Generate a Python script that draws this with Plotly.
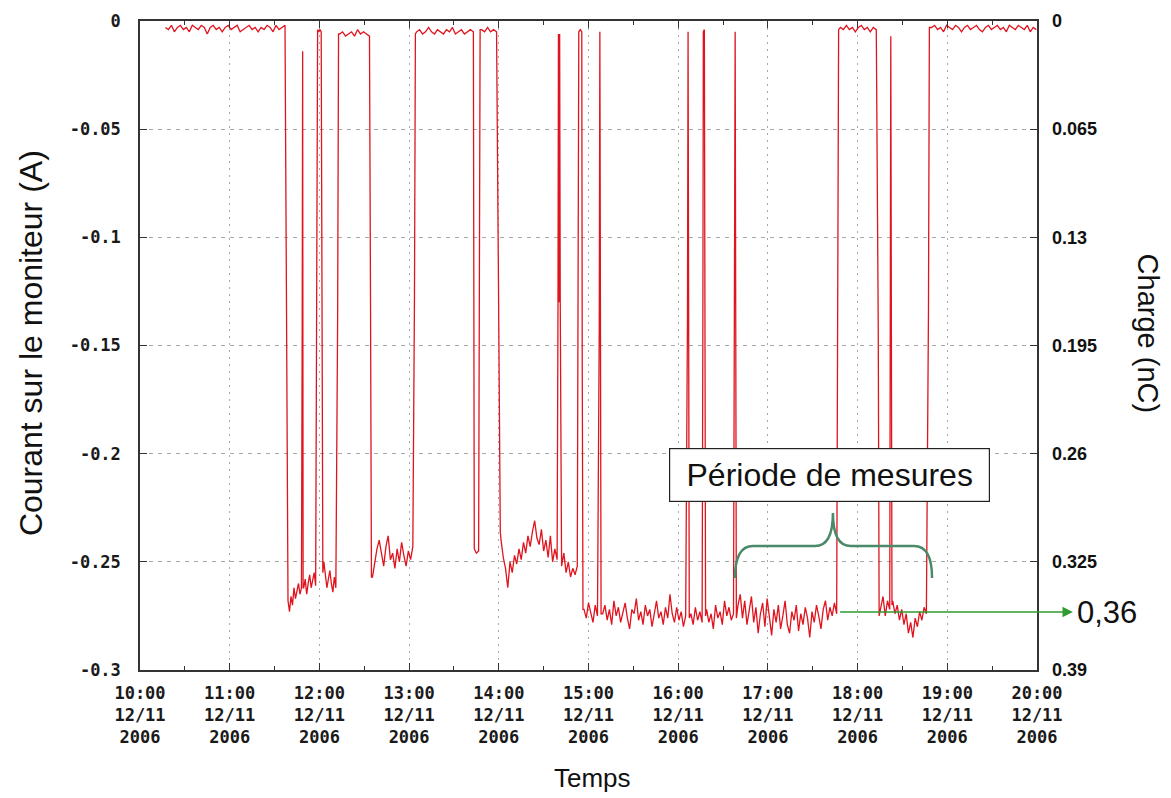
import pandas as pd
import plotly.graph_objects as go

START = pd.Timestamp("2006-11-12 10:00")

# ---------------- data (minutes after 10:00, current in A) ----------------
# plateaus sampled at a regular interval: (start minute, step in minutes, values)
BASE_1 = [-0.003, -0.004, -0.002, -0.005, -0.003, -0.002, -0.004, -0.003, -0.005, -0.002,
          -0.003, -0.004, -0.002, -0.003, -0.006, -0.003, -0.002, -0.004, -0.003, -0.005,
          -0.003, -0.002, -0.004, -0.003, -0.002, -0.005, -0.004, -0.003, -0.002, -0.004,
          -0.003, -0.005, -0.003, -0.004, -0.002, -0.003, -0.005, -0.002, -0.004, -0.003, -0.002]
LOW_1A = [-0.268, -0.273, -0.266, -0.270, -0.262, -0.267, -0.264, -0.260, -0.265, -0.262]
LOW_1B = [-0.262, -0.258, -0.265, -0.260, -0.256, -0.262, -0.259, -0.255, -0.261]
LOW_1C = [-0.250, -0.256, -0.262, -0.258, -0.254, -0.260, -0.264, -0.257, -0.262]
BASE_2 = [-0.006, -0.005, -0.007, -0.006, -0.005, -0.007, -0.004, -0.006, -0.005, -0.006, -0.007]
LOW_2 = [-0.257, -0.250, -0.244, -0.240, -0.247, -0.252, -0.243, -0.238, -0.249, -0.246,
         -0.253, -0.244, -0.250, -0.241, -0.247, -0.252, -0.245, -0.249, -0.243]
BASE_3 = [-0.005, -0.004, -0.006, -0.005, -0.003, -0.005, -0.006, -0.004, -0.005, -0.006,
          -0.004, -0.005, -0.003, -0.006, -0.005, -0.004, -0.006, -0.005, -0.004, -0.005]
BASE_4 = [-0.004, -0.005, -0.003, -0.005, -0.004, -0.005]
LOW_3A = [-0.240, -0.248, -0.253, -0.262, -0.250, -0.255, -0.247, -0.251, -0.244, -0.249,
          -0.241, -0.246, -0.238, -0.243, -0.236, -0.231, -0.239, -0.242, -0.235, -0.245,
          -0.240, -0.248, -0.238, -0.250, -0.244, -0.249]
LOW_3B = [-0.252, -0.246, -0.255, -0.250, -0.257, -0.253, -0.256, -0.252]
LOW_4 = [-0.272, -0.276, -0.269, -0.274, -0.278, -0.270, -0.275]
LOW_5 = [-0.274, -0.270, -0.277, -0.272, -0.279, -0.268, -0.275, -0.271, -0.278, -0.273,
         -0.269, -0.276, -0.281, -0.272, -0.274, -0.267, -0.277, -0.273, -0.279, -0.270,
         -0.275, -0.272, -0.280, -0.274, -0.268, -0.276, -0.273, -0.279, -0.271, -0.276,
         -0.265, -0.274, -0.278, -0.271, -0.277, -0.273, -0.280, -0.275]
LOW_6 = [-0.274, -0.279, -0.271, -0.277, -0.273, -0.278]
LOW_7 = [-0.272, -0.278, -0.274, -0.281, -0.270, -0.276, -0.273, -0.279, -0.268, -0.275,
         -0.271, -0.277, -0.274]
LOW_8 = [-0.270, -0.265, -0.276, -0.268, -0.279, -0.272, -0.266, -0.278, -0.271, -0.283,
         -0.274, -0.269, -0.280, -0.267, -0.276, -0.284, -0.272, -0.278, -0.270, -0.281,
         -0.275, -0.268, -0.279, -0.283, -0.273, -0.277, -0.270, -0.282, -0.274, -0.279,
         -0.271, -0.276, -0.285, -0.273, -0.278, -0.270, -0.275, -0.281, -0.272, -0.268,
         -0.277, -0.271, -0.275, -0.269, -0.274]
BASE_5 = [-0.003, -0.004, -0.002, -0.004, -0.003, -0.005, -0.003, -0.002, -0.004, -0.003,
          -0.005, -0.003, -0.004]
LOW_9 = [-0.271, -0.266, -0.275, -0.268, -0.272]
LOW_10 = [-0.268, -0.274, -0.270, -0.277, -0.272, -0.279, -0.274, -0.283, -0.278, -0.285,
          -0.276, -0.280, -0.273, -0.277, -0.271, -0.274]
BASE_6 = [-0.003, -0.002, -0.004, -0.003, -0.005, -0.002, -0.003, -0.004, -0.002, -0.003,
          -0.005, -0.003, -0.002, -0.004, -0.003, -0.002, -0.004, -0.005, -0.003, -0.002,
          -0.004, -0.003, -0.002, -0.004, -0.003, -0.005, -0.002, -0.003, -0.004, -0.002,
          -0.003, -0.004, -0.002, -0.005, -0.003, -0.004]

# transitions / spikes: (minute, current)
DROP_1 = [(98.0, -0.133), (98.5, -0.268)]
SPIKE_1 = [(108.5, -0.140), (108.8, -0.014), (109.1, -0.262)]
SPIKE_2 = [(118.2, -0.126), (118.8, -0.004), (119.6, -0.005), (120.4, -0.004), (121.2, -0.005),
           (121.8, -0.126), (122.3, -0.255)]
RISE_1 = [(132.2, -0.137), (132.8, -0.006)]
DROP_2 = [(154.2, -0.131), (154.8, -0.257)]
RISE_2 = [(183.6, -0.127), (184.2, -0.006)]
DIP_1 = [(223.6, -0.244), (225.0, -0.246), (226.5, -0.245), (227.0, -0.124), (227.5, -0.004)]
DROP_3 = [(239.8, -0.123), (240.2, -0.170), (240.6, -0.210), (241.0, -0.236)]
SPIKE_3 = [(279.6, -0.130), (279.9, -0.006), (280.3, -0.130), (280.7, -0.006), (281.1, -0.130),
           (281.5, -0.250)]
SPIKE_4 = [(293.1, -0.130), (293.5, -0.005), (294.5, -0.004), (295.5, -0.005), (295.8, -0.155),
           (296.3, -0.272)]
SPIKE_5 = [(307.2, -0.141), (307.6, -0.005), (308.0, -0.141), (308.4, -0.274)]
SPIKE_6 = [(366.2, -0.138), (366.6, -0.005), (367.0, -0.138), (367.4, -0.276)]
SPIKE_7 = [(376.5, -0.140), (376.8, -0.005), (377.5, -0.004), (377.9, -0.140), (378.3, -0.275)]
SPIKE_8 = [(397.7, -0.143), (398.1, -0.005), (398.5, -0.143), (398.9, -0.276)]
RISE_3 = [(466.8, -0.137), (467.3, -0.004)]
DROP_4 = [(493.8, -0.140), (494.4, -0.275)]
SPIKE_9 = [(501.9, -0.145), (502.2, -0.007), (502.6, -0.145), (503.0, -0.270)]
RISE_4 = [(527.4, -0.135), (528.0, -0.003)]

PIECES = [
    ("run", 17, 2, BASE_1), ("pts", DROP_1), ("run", 99, 1, LOW_1A), ("pts", SPIKE_1),
    ("run", 109.5, 1, LOW_1B), ("pts", SPIKE_2), ("run", 123, 1, LOW_1C), ("pts", RISE_1),
    ("run", 133.5, 2, BASE_2), ("pts", DROP_2), ("run", 155.5, 1.5, LOW_2), ("pts", RISE_2),
    ("run", 185, 2, BASE_3), ("pts", DIP_1), ("run", 228.5, 2, BASE_4), ("pts", DROP_3),
    ("run", 241.5, 1.5, LOW_3A), ("pts", SPIKE_3), ("run", 282, 1.5, LOW_3B), ("pts", SPIKE_4),
    ("run", 297, 1.5, LOW_4), ("pts", SPIKE_5), ("run", 309.5, 1.5, LOW_5), ("pts", SPIKE_6),
    ("run", 368.5, 1.5, LOW_6), ("pts", SPIKE_7), ("run", 379, 1.5, LOW_7), ("pts", SPIKE_8),
    ("run", 400, 1.5, LOW_8), ("pts", RISE_3), ("run", 468.5, 2, BASE_5), ("pts", DROP_4),
    ("run", 495.5, 1.5, LOW_9), ("pts", SPIKE_9), ("run", 503.5, 1.5, LOW_10), ("pts", RISE_4),
    ("run", 529.5, 2, BASE_6),
]

HOUR_TICKS = list(range(10, 21))
HOUR_LABELS = [f"{h}:00<br>12/11<br>2006" for h in HOUR_TICKS]
Y_TICKS = [0, -0.05, -0.1, -0.15, -0.2, -0.25, -0.3]
Y_LABELS = ["0", "-0.05", "-0.1", "-0.15", "-0.2", "-0.25", "-0.3"]
Y2_TICKS = [0, 0.065, 0.13, 0.195, 0.26, 0.325, 0.39]
Y2_LABELS = ["0", "0.065", "0.13", "0.195", "0.26", "0.325", "0.39"]
CHARGE_FULL_SCALE = 0.39      # nC at -0.3 A
MEASURE_LEVEL_A = -0.2732     # level of the green arrow
MEASURE_LABEL = "0,36"
MEASURE_START_MIN = 467.3
BRACE_MIN = (398, 463.5, 529.8)

# ---------------- build series ----------------
minutes, current = [], []
for p in PIECES:
    if p[0] == "run":
        _, t0, dt, vals = p
        for i, v in enumerate(vals):
            minutes.append(t0 + i * dt)
            current.append(v)
    else:
        for t, v in p[1]:
            minutes.append(t)
            current.append(v)
times = START + pd.to_timedelta(minutes, unit="min")
charge = [v / -0.3 * CHARGE_FULL_SCALE for v in current]

x0, x1 = START, START + pd.Timedelta(hours=10)
def px(m):  # minutes -> paper x
    return m / 600.0
def py(v):  # current -> paper y
    return (v + 0.3) / 0.3

fig = go.Figure()
fig.add_trace(go.Scatter(x=times, y=current, mode="lines",
                         line=dict(color="#e0141e", width=1.3), hoverinfo="skip"))
# same series on the charge scale (invisible) so that the right axis is drawn
fig.add_trace(go.Scatter(x=times, y=charge, mode="lines", yaxis="y2", opacity=0,
                         line=dict(color="#e0141e", width=0.1), hoverinfo="skip"))

mono = dict(family="DejaVu Sans Mono", size=17, color="#1a1a1a", weight="bold")
fig.update_layout(
    width=1163, height=790,
    margin=dict(l=132, r=134, t=13, b=128),
    plot_bgcolor="white", paper_bgcolor="white", showlegend=False,
    xaxis=dict(type="date", range=[x0, x1], automargin=False,
               tickvals=[START + pd.Timedelta(hours=h - 10) for h in HOUR_TICKS],
               ticktext=HOUR_LABELS, tickfont=mono, tickangle=0,
               ticks="inside", ticklen=7, tickcolor="#333", tickwidth=1.2,
               showline=True, linecolor="#333", linewidth=1.5, mirror="ticks",
               showgrid=True, gridcolor="#a8a8a8", gridwidth=1, griddash="2px,5px",
               ticklabelstandoff=7,
               minor=dict(tickvals=[START + pd.Timedelta(minutes=30 + 60 * k) for k in range(10)],
                          ticks="inside", ticklen=4, tickcolor="#333", showgrid=False),
               zeroline=False),
    yaxis=dict(range=[-0.3, 0], tickvals=Y_TICKS, ticktext=Y_LABELS, tickfont=mono,
               automargin=False,
               ticks="inside", ticklen=7, tickcolor="#333", tickwidth=1.2,
               showline=True, linecolor="#333", linewidth=1.5, mirror="ticks",
               showgrid=True, gridcolor="#a8a8a8", gridwidth=1, griddash="4px,5px",
               zeroline=False, ticklabelstandoff=14),
    yaxis2=dict(overlaying="y", side="right", range=[CHARGE_FULL_SCALE, 0], tickvals=Y2_TICKS,
                ticktext=Y2_LABELS, automargin=False,
                tickfont=dict(family="Liberation Sans", size=18, color="#111", weight="bold"),
                showgrid=False, zeroline=False, showline=False, ticks="",
                ticklabelstandoff=14),
)

annotations = [
    dict(text="Courant sur le moniteur (A)", xref="paper", yref="paper",
         x=-0.122, y=0.503, xanchor="center", yanchor="middle", textangle=-90,
         showarrow=False, font=dict(family="Liberation Sans", size=32, color="#111")),
    dict(text="Charge (nC)", xref="paper", yref="paper",
         x=1.124, y=0.518, xanchor="center", yanchor="middle", textangle=90,
         showarrow=False, font=dict(family="Liberation Sans", size=29, color="#111")),
    dict(text="Temps", xref="paper", yref="paper",
         x=0.504, y=-0.167, xanchor="center", yanchor="middle", showarrow=False,
         font=dict(family="Liberation Sans", size=26, color="#111")),
    dict(text="Période de mesures", xref="paper", yref="paper",
         x=px(461.5), y=py(-0.2099), xanchor="center", yanchor="middle",
         showarrow=False, width=317, height=50,
         bgcolor="white", bordercolor="#222", borderwidth=1.2, borderpad=1,
         font=dict(family="Liberation Sans", size=32, color="#111")),
    dict(text=MEASURE_LABEL, xref="paper", yref="paper",
         x=1.078, y=py(MEASURE_LEVEL_A), xanchor="center", yanchor="middle",
         showarrow=False, font=dict(family="Liberation Sans", size=31, color="#111")),
    dict(text="", xref="paper", yref="paper", x=1.040, y=py(MEASURE_LEVEL_A),
         ax=-(1.040 - px(MEASURE_START_MIN)) * 897, ay=0, axref="pixel", ayref="pixel",
         showarrow=True, arrowhead=2, arrowsize=1.6, arrowwidth=1.3, arrowcolor="#2f9a2f"),
]
fig.update_layout(annotations=annotations)

# brace
bl, bm, br = BRACE_MIN
yb, yh, yp = py(-0.2575), py(-0.2427), py(-0.2274)
path = (f"M {px(bl)},{yb} Q {px(bl)},{yh} {px(bl + 12)},{yh} "
        f"L {px(bm - 12)},{yh} Q {px(bm)},{yh} {px(bm)},{yp} "
        f"Q {px(bm)},{yh} {px(bm + 12)},{yh} L {px(br - 12)},{yh} "
        f"Q {px(br)},{yh} {px(br)},{yb}")
fig.add_shape(type="path", path=path, xref="paper", yref="paper",
              line=dict(color="#4a8a6a", width=2.5))

fig.write_html("out.html")
